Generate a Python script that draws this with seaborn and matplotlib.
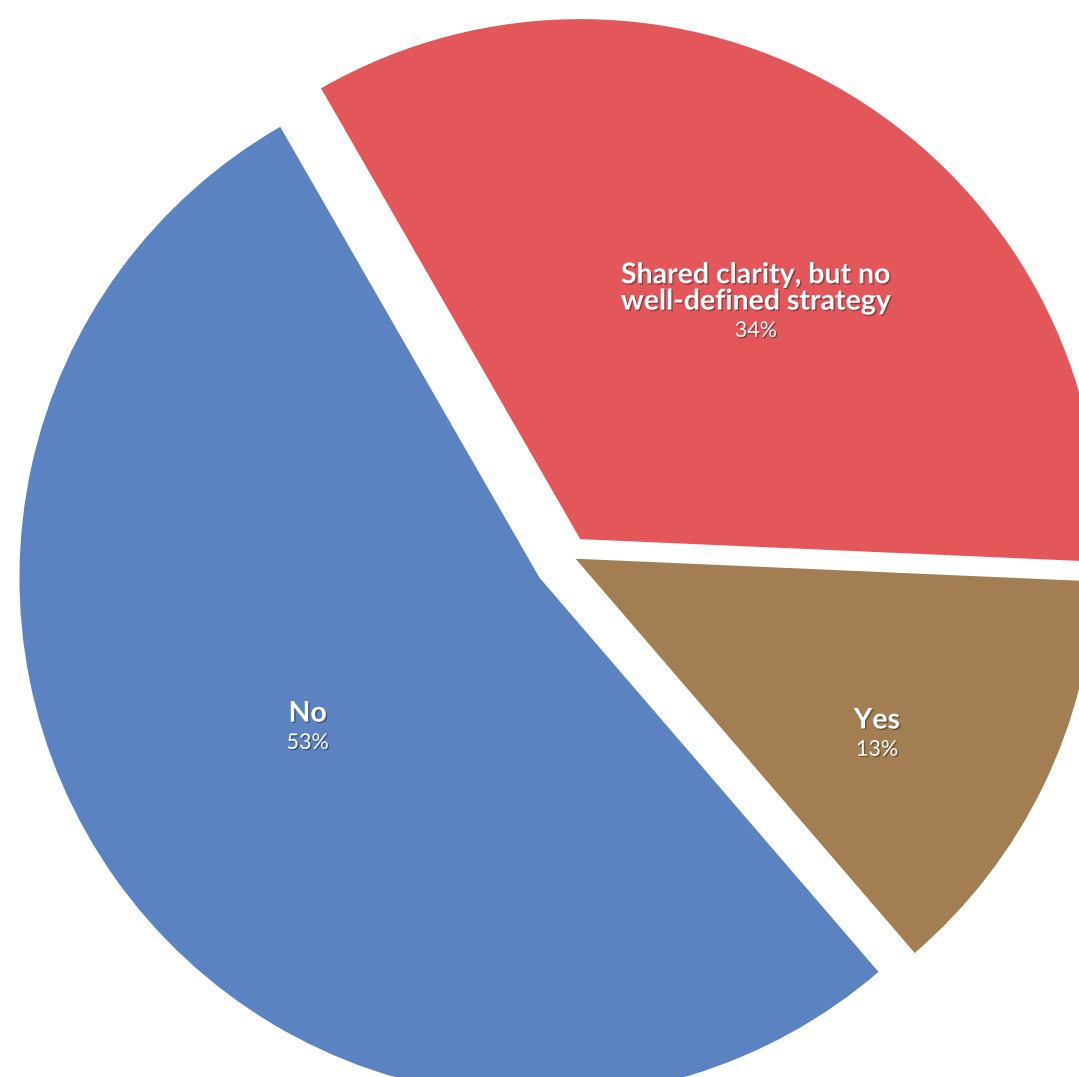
import numpy as np
import matplotlib
matplotlib.use('Agg')
import matplotlib.pyplot as plt
import matplotlib.patheffects as pe
import seaborn as sns

# data
labels = ['Shared clarity, but no\nwell-defined strategy', 'No', 'Yes']
shares = [34, 53, 13]
colors = ['#E3575B', '#5B83C2', '#A27E52']
explode = [0.038, 0.072, 0.012]

sns.set_theme(style='white')
plt.rcParams['font.family'] = ['Lato', 'DejaVu Sans']

fig = plt.figure(figsize=(10.79, 10.77), dpi=100)
ax = fig.add_axes([0, 0, 1, 1])

wedges, _ = ax.pie(shares, colors=colors, explode=explode, startangle=-2.5,
                   radius=1, wedgeprops=dict(linewidth=0))

# label anchors, relative to each wedge's own centre
label_r = [0.545, 0.532, 0.672]
label_turn = [-7.0, -2.2, -4.5]
shadow = [pe.withSimplePatchShadow(offset=(1, -1), shadow_rgbFace='black', alpha=0.35)]

for w, lab, pct, r, dt in zip(wedges, labels, shares, label_r, label_turn):
    ang = np.deg2rad((w.theta1 + w.theta2) / 2 + dt)
    cx, cy = w.center
    x, y = cx + r * np.cos(ang), cy + r * np.sin(ang)
    ax.text(x, y + 0.004, lab, ha='center', va='bottom', fontsize=20.5,
            fontweight='bold', color='white', linespacing=1.02, path_effects=shadow)
    ax.text(x, y - 0.008, f'{pct}%', ha='center', va='top', fontsize=15.5,
            color='white', path_effects=shadow)

# crop the pie like the original picture
ax.set_aspect('auto')
ax.set_xlim(-570 / 520, (1079 - 570) / 520)
ax.set_ylim(-(1077 - 556) / 520, 556 / 520)
ax.axis('off')

fig.savefig('out.png', dpi=100, facecolor='white')
